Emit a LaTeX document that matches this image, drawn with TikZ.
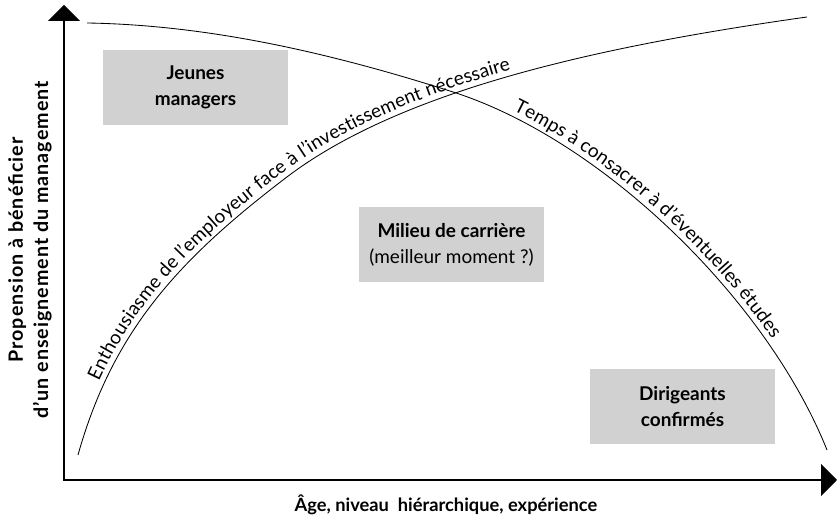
\documentclass[tikz,border=0pt]{standalone}
\usepackage{fontspec}
\setmainfont{Lato}
\usetikzlibrary{arrows.meta}
\usetikzlibrary{decorations.text}

\tikzset{
  box/.style={fill=black!18,minimum width=4.625cm,minimum height=1.875cm,align=center,font=\fontsize{13.5}{18.5}\selectfont\bfseries},
  curve/.style={line width=0.6pt},
  axis/.style={line width=1.5pt,{Triangle[length=0.4cm,width=0.8cm]}-{Triangle[length=0.4cm,width=0.8cm]}},
  axislabel/.style={align=center,font=\fontsize{13}{17}\selectfont\bfseries},
}

\begin{document}
\begin{tikzpicture}[x=0.025cm,y=0.025cm]
  \useasboundingbox (0,0) rectangle (837,523);
  % axes
  \coordinate (o) at (64,43);
  \coordinate (ytop) at (64,518);
  \coordinate (xend) at (837,43);
  \draw[axis] (ytop) -- (o) -- (xend);
  \node[axislabel,font=\fontsize{14}{18}\selectfont\bfseries\addfontfeature{LetterSpace=5},rotate=90](ylab)at(30,273){Propension à bénéficier\\d’un enseignement du management};
  \node[axislabel](xlab)at(446,18){Âge, niveau~ hiérarchique, expérience};
  % boxes
  \node[box](jeunes)at(195.5,435.5){Jeunes\\managers};
  \node[box](milieu)at(451.5,278.5){Milieu de carrière\\{\mdseries (meilleur moment ?)}};
  \node[box](dirigeants)at(682.5,116){Dirigeants\\confirmés};
  % curves
  \coordinate (e0) at (78,68);
  \coordinate (e1) at (283,343);
  \coordinate (e2) at (807,506);
  \coordinate (t0) at (87,500);
  \coordinate (t1) at (453,431);
  \coordinate (t2) at (827,73);
  \draw[curve,postaction={decorate,decoration={text along path,raise=4pt,
      text align={left indent=1.9cm},
      text={|\fontsize{13.5}{16}\selectfont|Enthousiasme de l’employeur face à l’investissement nécessaire}}}]
    (e0) .. controls (113,193) and (180,264) .. (e1) .. controls (401,435) and (609,478) .. (e2);
  \draw[curve,postaction={decorate,decoration={text along path,raise=4pt,
      text align={left indent=10.9cm},
      text={|\fontsize{13.5}{16}\selectfont|Temps à consacrer à d’éventuelles études}}}]
    (t0) .. controls (209,498) and (331,470) .. (t1) .. controls (603,383) and (767,223) .. (t2);
\end{tikzpicture}
\end{document}
